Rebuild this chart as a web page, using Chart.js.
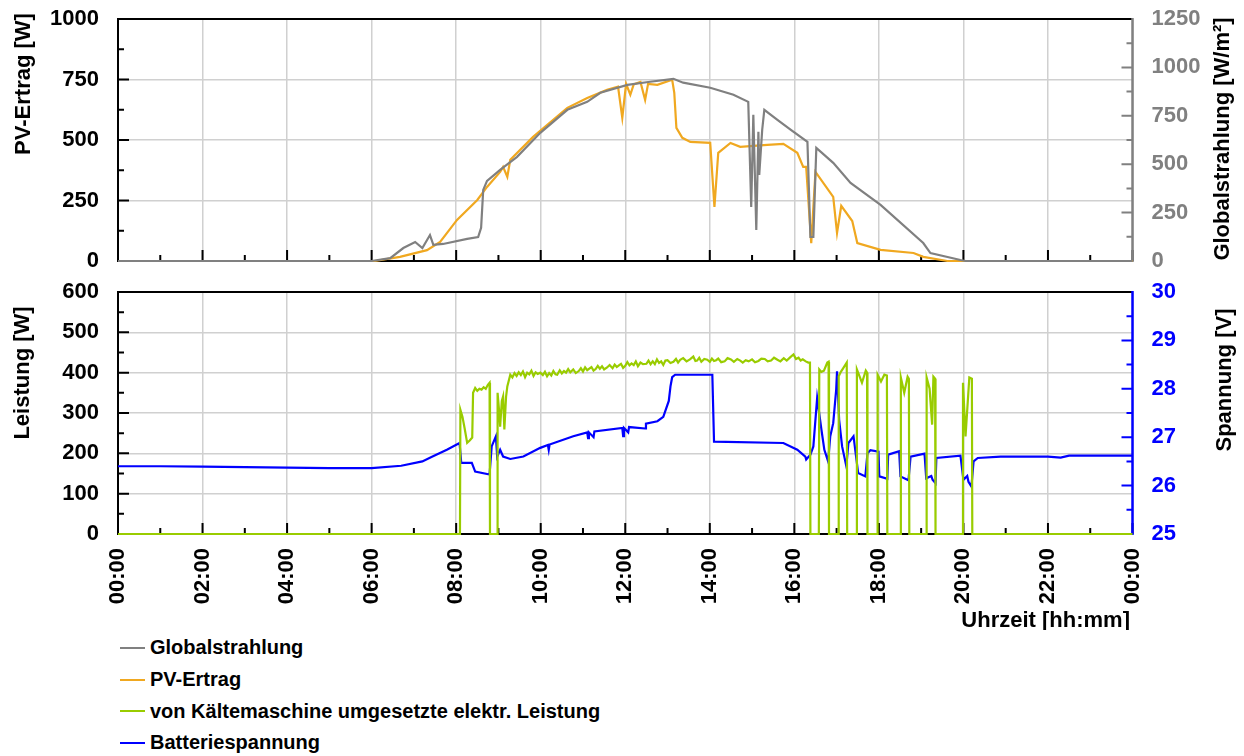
<!DOCTYPE html>
<html>
<head>
<meta charset="utf-8">
<script src="https://cdn.jsdelivr.net/npm/chart.js@4.4.1/dist/chart.umd.min.js"></script>
<style>
  body { margin: 0; background: #fff; font-family: "Liberation Sans", Arial, sans-serif; }
  #wrap { position: relative; width: 1244px; height: 756px; overflow: hidden; }
  #topChart { position: absolute; left: 0; top: 0; }
  #bottomChart { position: absolute; left: 0; top: 280px; }
  #legend { position: absolute; left: 120px; top: 632px; }
  .row { height: 31.7px; display: flex; align-items: center; font-weight: bold; font-size: 20px; color: #000; }
  .swatch { width: 25px; height: 2px; margin-right: 5px; }
</style>
</head>
<body>
<div id="wrap">
  <canvas id="topChart" width="1244" height="280"></canvas>
  <canvas id="bottomChart" width="1244" height="350"></canvas>
  <div id="legend"></div>
</div>
<script>
// Globalstrahlung [W/m²] (right axis, top chart)
const globalHours = [0, 6.0, 6.44, 6.75, 7.03, 7.2, 7.38, 7.46, 7.69, 8.26,
  8.52, 8.59, 8.64, 8.73, 9.04, 9.44, 9.99, 10.63, 11.1, 11.41,
  12.05, 12.59, 13.14, 13.37, 14.01, 14.56, 14.91, 14.98, 15.03, 15.1,
  15.15, 15.17, 15.24, 15.29, 15.6, 15.91, 16.31, 16.38, 16.45, 16.52,
  16.92, 17.33, 18.04, 19.05, 19.22, 19.93, 20.05, 24];
const globalValues = [0, 0, 15, 67, 98, 67, 134, 83, 88, 114,
  124, 171, 367, 414, 471, 538, 662, 781, 822, 869,
  910, 926, 941, 921, 895, 859, 822, 279, 755, 160,
  667, 445, 678, 781, 729, 678, 615, 124, 124, 584,
  507, 403, 290, 93, 41, 5, 0, 0];

// PV-Ertrag [W] (left axis, top chart)
const pvHours = [0, 6.08, 6.67, 7.31, 7.62, 8.02, 8.5, 8.73, 9.04, 9.11,
  9.21, 9.28, 9.82, 10.63, 11.1, 11.57, 11.83, 11.93, 12.02, 12.12,
  12.2, 12.36, 12.47, 12.54, 12.76, 13.11, 13.16, 13.21, 13.35, 13.54,
  14.01, 14.11, 14.2, 14.49, 14.72, 15.36, 15.74, 16.07, 16.21, 16.28,
  16.4, 16.5, 16.92, 17.01, 17.11, 17.37, 17.49, 18.04, 18.82, 19.05,
  19.62, 24];
const pvValues = [0, 0, 17, 45, 79, 170, 252, 306, 368, 389,
  348, 418, 513, 633, 674, 707, 720, 592, 732, 687,
  730, 740, 666, 732, 728, 749, 695, 550, 509, 492,
  488, 223, 447, 488, 472, 480, 484, 447, 389, 389,
  74, 368, 265, 116, 228, 165, 74, 46, 33, 17,
  0, 0];

// Kältemaschine elektr. Leistung [W] (left axis, bottom chart)
const coolHours = [0, 8.09, 8.10, 8.15, 8.20, 8.26, 8.32, 8.38, 8.40, 8.45,
  8.50, 8.55, 8.60, 8.65, 8.70, 8.75, 8.79, 8.80, 8.97, 8.98,
  9.02, 9.04, 9.08, 9.11, 9.14, 9.18, 9.21, 9.28, 9.33, 9.38,
  9.43, 9.48, 9.53, 9.58, 9.63, 9.68, 9.73, 9.78, 9.83, 9.88,
  9.93, 9.99, 10.05, 10.1, 10.15, 10.2, 10.25, 10.3, 10.35, 10.39,
  10.45, 10.5, 10.55, 10.6, 10.65, 10.7, 10.77, 10.83, 10.9, 10.95,
  11.0, 11.05, 11.1, 11.15, 11.2, 11.25, 11.3, 11.35, 11.4, 11.45,
  11.5, 11.57, 11.63, 11.7, 11.75, 11.8, 11.85, 11.9, 11.95, 12.0,
  12.05, 12.1, 12.15, 12.2, 12.25, 12.3, 12.36, 12.42, 12.5, 12.55,
  12.6, 12.65, 12.7, 12.75, 12.8, 12.85, 12.9, 12.95, 13.0, 13.07,
  13.14, 13.2, 13.25, 13.3, 13.37, 13.45, 13.53, 13.61, 13.66, 13.7,
  13.75, 13.8, 13.87, 13.94, 14.0, 14.05, 14.1, 14.15, 14.2, 14.27,
  14.35, 14.42, 14.5, 14.57, 14.65, 14.72, 14.78, 14.85, 14.92, 15.0,
  15.07, 15.15, 15.22, 15.3, 15.37, 15.45, 15.52, 15.6, 15.67, 15.75,
  15.82, 15.9, 15.98, 16.04, 16.1, 16.15, 16.2, 16.27, 16.33, 16.37,
  16.38, 16.58, 16.59, 16.64, 16.7, 16.78, 16.81, 16.82, 17.04, 17.05,
  17.1, 17.15, 17.24, 17.25, 17.47, 17.48, 17.6, 17.69, 17.72, 17.73,
  17.96, 17.97, 18.05, 18.13, 18.19, 18.2, 18.51, 18.52, 18.6, 18.68,
  18.71, 18.72, 19.12, 19.13, 19.2, 19.26, 19.29, 19.33, 19.34, 19.98,
  19.99, 20.05, 20.14, 20.2, 20.21, 24];
const coolValues = [0, 0, 308, 290, 262, 226, 232, 239, 350, 362,
  355, 360, 358, 364, 360, 370, 375, 0, 0, 350,
  300, 266, 330, 341, 259, 340, 366, 395, 388, 399,
  392, 401, 394, 403, 389, 400, 396, 405, 392, 401,
  397, 400, 394, 402, 391, 399, 393, 404, 396, 395,
  406, 398, 404, 400, 409, 401, 408, 399, 404, 411,
  403, 413, 406, 410, 414, 405, 409, 417, 410, 416,
  408, 413, 419, 411, 420, 414, 418, 422, 412, 417,
  426, 418, 423, 419, 428, 416, 425, 421, 422, 430,
  421, 428, 421, 433, 424, 428, 419, 430, 431, 424,
  427, 434, 425, 432, 436, 428, 433, 440, 429, 430,
  437, 427, 434, 432, 427, 435, 429, 431, 435, 426,
  428, 436, 433, 427, 434, 430, 425, 431, 428, 433,
  426, 429, 435, 434, 428, 430, 437, 432, 428, 436,
  430, 438, 445, 434, 437, 430, 433, 428, 425, 425,
  0, 0, 408, 402, 405, 425, 427, 0, 0, 391,
  402, 410, 425, 0, 0, 408, 375, 405, 400, 0,
  0, 395, 378, 395, 393, 0, 0, 388, 350, 390,
  385, 0, 0, 388, 360, 271, 390, 385, 0, 0,
  375, 242, 388, 385, 0, 0];

// Batteriespannung [V] (right axis, bottom chart)
const batHours = [0, 1, 2, 3, 4, 5, 6, 6.7, 7.2, 7.44,
  7.78, 8.08, 8.12, 8.37, 8.45, 8.79, 8.84, 8.94, 8.97, 9.04,
  9.11, 9.28, 9.59, 9.99, 10.17, 10.19, 10.21, 10.77, 11.1, 11.12,
  11.14, 11.25, 11.27, 11.93, 11.95, 11.97, 12.07, 12.09, 12.47, 12.49,
  12.76, 12.9, 13.03, 13.07, 13.11, 13.18, 14.06, 14.1, 15.74, 16.07,
  16.26, 16.28, 16.38, 16.45, 16.54, 16.64, 16.71, 16.8, 16.85, 16.92,
  16.99, 17.01, 17.06, 17.13, 17.23, 17.28, 17.4, 17.51, 17.68, 17.73,
  17.8, 17.99, 18.01, 18.2, 18.22, 18.48, 18.51, 18.7, 18.75, 19.08,
  19.12, 19.24, 19.27, 19.34, 19.36, 19.93, 20.0, 20.09, 20.12, 20.19,
  20.24, 20.34, 20.88, 22.0, 22.3, 22.5, 24];
const batValues = [26.40, 26.40, 26.39, 26.38, 26.37, 26.36, 26.36, 26.41, 26.5, 26.6,
  26.74, 26.88, 26.47, 26.47, 26.29, 26.23, 26.81, 27.02, 26.6, 26.74,
  26.6, 26.55, 26.6, 26.78, 26.84, 26.74, 26.85, 27.02, 27.1, 26.98,
  27.1, 27.0, 27.12, 27.19, 27.02, 27.19, 27.1, 27.21, 27.18, 27.28,
  27.33, 27.42, 27.75, 28.05, 28.24, 28.29, 28.29, 26.91, 26.88, 26.74,
  26.6, 26.54, 26.64, 26.81, 27.81, 27.16, 26.74, 26.5, 27.02, 27.29,
  27.98, 28.36, 27.36, 26.81, 26.4, 26.88, 27.02, 26.26, 26.19, 26.67,
  26.73, 26.7, 26.19, 26.14, 26.64, 26.71, 26.19, 26.11, 26.6, 26.66,
  26.15, 26.2, 26.12, 26.05, 26.57, 26.62, 26.12, 26.2, 26.08, 25.98,
  26.5, 26.57, 26.6, 26.6, 26.58, 26.62, 26.62];

const legendLabels = ['Globalstrahlung', 'PV-Ertrag', 'von Kältemaschine umgesetzte elektr. Leistung', 'Batteriespannung'];
const legendColors = ['#808080', '#F0A820', '#99CC00', '#0000FF'];

Chart.defaults.font.family = '"Liberation Sans", Arial, sans-serif';
Chart.defaults.font.weight = 'bold';
Chart.defaults.font.size = 22;
Chart.defaults.color = '#000';

const toPoints = (hs, vs) => hs.map((h, i) => ({ x: h, y: vs[i] }));
const gridColor = '#d0d0d0';

// frame, inward tick marks and axis titles
const framePlugin = {
    id: 'frame',
    beforeDatasetsDraw(chart, args, o) {
        const { ctx, chartArea: a, scales } = chart;
        ctx.save();
        ctx.lineWidth = 2;
        const marks = (scale, draw) => {
            const vals = scale.ticks.map(t => t.value);
            vals.forEach((v, i) => {
                draw(scale.getPixelForValue(v), 11);
                if (i < vals.length - 1) draw(scale.getPixelForValue((v + vals[i + 1]) / 2), 6);
            });
        };
        ctx.strokeStyle = '#000';
        ctx.beginPath();
        marks(scales.x, (p, l) => { ctx.moveTo(p, a.bottom); ctx.lineTo(p, a.bottom - l); });
        marks(scales.y, (p, l) => { ctx.moveTo(a.left, p); ctx.lineTo(a.left + l, p); });
        ctx.stroke();
        ctx.strokeStyle = o.rightColor;
        ctx.beginPath();
        marks(scales.y1, (p, l) => { ctx.moveTo(a.right, p); ctx.lineTo(a.right - l, p); });
        ctx.stroke();
        // frame
        ctx.strokeStyle = '#000';
        ctx.beginPath();
        ctx.moveTo(a.left, a.top); ctx.lineTo(a.right, a.top);
        ctx.moveTo(a.left, a.top - 1); ctx.lineTo(a.left, a.bottom + 1);
        ctx.moveTo(a.left - 1, a.bottom); ctx.lineTo(a.right, a.bottom);
        ctx.stroke();
        ctx.strokeStyle = o.rightColor;
        ctx.lineWidth = 2.5;
        ctx.beginPath();
        ctx.moveTo(a.right, a.top - 1); ctx.lineTo(a.right, a.bottom + 1);
        ctx.stroke();
        ctx.restore();
    },
    afterDraw(chart, args, o) {
        const ctx = chart.ctx;
        ctx.save();
        ctx.font = 'bold 22px "Liberation Sans", Arial, sans-serif';
        ctx.fillStyle = '#000';
        ctx.textBaseline = 'middle';
        o.titles.forEach(t => {
            ctx.save();
            ctx.translate(t.x, t.y);
            ctx.rotate(t.rot || 0);
            ctx.textAlign = t.align || 'center';
            ctx.fillText(t.text, 0, 0);
            ctx.restore();
        });
        ctx.restore();
    }
};

const hourLabel = v => String(v % 24).padStart(2, '0') + ':00';
const plain = v => String(v);
const noPad = s => { s.paddingTop = 0; s.paddingBottom = 0; s.paddingLeft = 0; s.paddingRight = 0; };

const xScale = (showLabels) => ({
    type: 'linear',
    min: 0,
    max: 24,
    ticks: {
        display: showLabels,
        stepSize: 2,
        autoSkip: false,
        minRotation: 90,
        maxRotation: 90,
        padding: 14,
        callback: hourLabel
    },
    grid: { color: gridColor, lineWidth: 1.5, drawTicks: false },
    border: { display: false },
    afterFit: s => { s.height = showLabels ? 96 : 0; noPad(s); }
});

const yScale = (min, max, step, color, width, right) => ({
    position: right ? 'right' : 'left',
    min: min, max: max,
    ticks: { stepSize: step, padding: 19, color: color, callback: plain },
    grid: { display: !right, color: gridColor, lineWidth: 1.5, drawTicks: false },
    border: { display: false },
    afterFit: s => { s.width = width; noPad(s); }
});

const lineStyle = { borderWidth: 2.2, pointRadius: 0, tension: 0, fill: false, clip: 4 };

new Chart(document.getElementById('topChart'), {
    type: 'line',
    data: {
        datasets: [
            { label: legendLabels[0], data: toPoints(globalHours, globalValues), borderColor: legendColors[0], yAxisID: 'y1', ...lineStyle },
            { label: legendLabels[1], data: toPoints(pvHours, pvValues), borderColor: legendColors[1], yAxisID: 'y', ...lineStyle }
        ]
    },
    options: {
        responsive: false,
        animation: false,
        layout: { padding: { top: 19, bottom: 19, left: 0, right: 0 } },
        plugins: {
            legend: { display: false },
            tooltip: { enabled: false },
            frame: {
                rightColor: '#808080',
                titles: [
                    { text: 'PV-Ertrag [W]', x: 24, y: 84, rot: -Math.PI / 2 },
                    { text: 'Globalstrahlung [W/m²]', x: 1223, y: 139, rot: -Math.PI / 2 }
                ]
            }
        },
        scales: {
            x: xScale(false),
            y: yScale(0, 1000, 250, '#000', 118, false),
            y1: yScale(0, 1250, 250, '#808080', 111.5, true)
        }
    },
    plugins: [framePlugin]
});

new Chart(document.getElementById('bottomChart'), {
    type: 'line',
    data: {
        datasets: [
            { label: legendLabels[2], data: toPoints(coolHours, coolValues), borderColor: legendColors[2], yAxisID: 'y', ...lineStyle },
            { label: legendLabels[3], data: toPoints(batHours, batValues), borderColor: legendColors[3], yAxisID: 'y1', ...lineStyle }
        ]
    },
    options: {
        responsive: false,
        animation: false,
        layout: { padding: { top: 12, bottom: 0, left: 0, right: 0 } },
        plugins: {
            legend: { display: false },
            tooltip: { enabled: false },
            frame: {
                rightColor: '#0000FF',
                titles: [
                    { text: 'Leistung [W]', x: 23, y: 93, rot: -Math.PI / 2 },
                    { text: 'Spannung [V]', x: 1225, y: 100, rot: -Math.PI / 2 },
                    { text: 'Uhrzeit [hh:mm]', x: 1130, y: 341, align: 'right' }
                ]
            }
        },
        scales: {
            x: xScale(true),
            y: yScale(0, 600, 100, '#000', 118, false),
            y1: yScale(25, 30, 1, '#0000FF', 111.5, true)
        }
    },
    plugins: [framePlugin]
});

// legend below the charts
const legendEl = document.getElementById('legend');
legendLabels.forEach((label, i) => {
    const row = document.createElement('div');
    row.className = 'row';
    row.innerHTML = `<span class="swatch" style="background:${legendColors[i]}"></span><span>${label}</span>`;
    legendEl.appendChild(row);
});
</script>
</body>
</html>
